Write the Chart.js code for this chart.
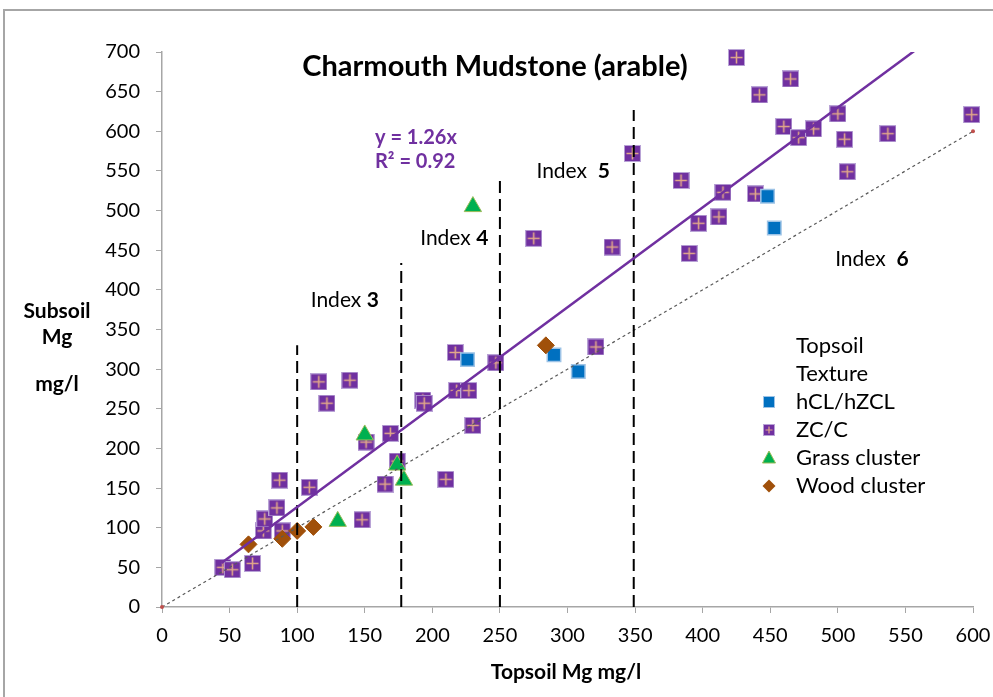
<!DOCTYPE html>
<html>
<head>
<meta charset="utf-8">
<script src="https://cdn.jsdelivr.net/npm/chart.js@4/dist/chart.umd.min.js"></script>
<style>
  html, body { margin: 0; padding: 0; background: #fff; }
  #wrap { width: 993px; height: 697px; position: relative; }
</style>
</head>
<body>
<div id="wrap"><canvas id="mgChart" width="993" height="697"></canvas></div>
<script>
// Topsoil / subsoil Mg (mg/l) by topsoil texture
const hclTop = [226, 290, 308, 448, 453];
const hclSub = [312, 318, 297, 518, 478];

const zcTop = [45, 52, 67, 75, 76, 85, 87, 89, 109, 116, 122, 139, 148, 151, 165, 169, 174, 193, 194, 210,
  217, 218, 227, 230, 247, 275, 321, 333, 348, 384, 390, 397, 412, 415, 439, 425, 442, 460, 465, 471,
  482, 500, 505, 507, 537, 599];
const zcSub = [50, 47, 55, 96, 111, 125, 160, 96, 151, 284, 257, 286, 110, 208, 155, 219, 184, 261, 257, 161,
  321, 273, 273, 229, 308, 465, 328, 454, 572, 538, 446, 484, 492, 523, 521, 693, 646, 606, 666, 592,
  603, 622, 590, 549, 597, 621];

const grassTop = [130, 150, 174, 179, 230];
const grassSub = [108, 217, 179, 160, 505];

const woodTop = [64, 89, 100, 112, 284];
const woodSub = [79, 86, 96, 101, 330];

// fitted trend (through origin) and the 1:1 reference line
const trendSlope = 1.26;
const trendR2 = 0.92;
const trendX = [44, 600];
const oneToOne = [0, 600];

// index boundaries on topsoil Mg and the height of each dashed marker
const indexBounds = [100, 177, 250, 349];
const indexTops = [330, 434, 544, 627];
const indexNames = ['3', '4', '5', '6'];
const indexLabelX = [110, 191, 277, 498];
const indexLabelY = [387, 465, 550, 438];

const xTicks = [0, 600, 50];
const yTicks = [0, 700, 50];

const FONT = "Lato, 'Open Sans', sans-serif";
const PURPLE = '#7030A0';

function pairs(xs, ys) { return xs.map((x, i) => ({ x: x, y: ys[i] })); }

// purple square with a light cross for ZC/C
function crossSquare(size) {
  const c = document.createElement('canvas');
  c.width = size; c.height = size;
  const g = c.getContext('2d');
  g.fillStyle = '#B9A3D6';
  g.fillRect(0, 0, size, size);
  g.fillStyle = PURPLE;
  g.fillRect(1, 1, size - 2, size - 2);
  g.strokeStyle = '#E2A889';
  g.lineWidth = size > 12 ? 1.6 : 1.2;
  const m = size / 2;
  g.beginPath();
  g.moveTo(m, 2.5); g.lineTo(m, size - 2.5);
  g.moveTo(2.5, m); g.lineTo(size - 2.5, m);
  g.stroke();
  return c;
}
const zcMark = crossSquare(17);
const zcLegendMark = crossSquare(12);

const datasets = [];

// dashed index boundaries
indexBounds.forEach((b, i) => {
  datasets.push({
    type: 'line', label: 'idx' + i, data: [{ x: b, y: 0 }, { x: b, y: indexTops[i] }],
    borderColor: '#000', borderWidth: 2, borderDash: [12, 6], pointRadius: 0, order: -1
  });
});

datasets.push({
  type: 'line', label: '1:1', data: oneToOne.map(v => ({ x: v, y: v })),
  borderColor: '#595959', borderWidth: 1.2, borderDash: [3, 3],
  pointRadius: 2, pointBackgroundColor: '#C0504D', pointBorderWidth: 0, order: -1, clip: 4
});

datasets.push({
  type: 'line', label: 'trend', data: trendX.map(x => ({ x: x, y: trendSlope * x })),
  borderColor: PURPLE, borderWidth: 2.5, pointRadius: 0, order: -2
});

datasets.push({
  label: 'hCL/hZCL', data: pairs(hclTop, hclSub), pointStyle: 'rect', pointRadius: 9.5,
  backgroundColor: '#0070C0', borderColor: '#9DC3E6', borderWidth: 1.5, order: 3
});
datasets.push({
  label: 'ZC/C', data: pairs(zcTop, zcSub), pointStyle: zcMark, pointRadius: 9, order: 4, clip: 10
});
datasets.push({
  label: 'Grass cluster', data: pairs(grassTop, grassSub), pointStyle: 'triangle', pointRadius: 10,
  backgroundColor: '#00B050', borderColor: '#9BBB59', borderWidth: 1, order: 2
});
datasets.push({
  label: 'Wood cluster', data: pairs(woodTop, woodSub), pointStyle: 'rectRot', pointRadius: 8.5,
  backgroundColor: '#A0500A', borderColor: '#A0500A', borderWidth: 1, order: 1
});

const decorations = {
  id: 'decorations',
  beforeDraw(chart) {
    const ctx = chart.ctx;
    ctx.save();
    ctx.strokeStyle = '#A6A6A6';
    ctx.lineWidth = 2;
    ctx.beginPath();
    ctx.moveTo(4, 700); ctx.lineTo(4, 10); ctx.lineTo(993, 10);
    ctx.stroke();
    ctx.restore();
  },
  afterDraw(chart) {
    const ctx = chart.ctx;
    const xs = chart.scales.x, ys = chart.scales.y;
    ctx.save();
    ctx.fillStyle = '#000';
    ctx.textBaseline = 'middle';

    // title
    ctx.textAlign = 'center';
    ctx.font = 'bold 29px ' + FONT;
    ctx.fillText('Charmouth Mudstone (arable)', 495, 67);

    // axis titles
    ctx.font = 'bold 21px ' + FONT;
    ctx.fillText('Topsoil Mg mg/l', 566, 672);
    ctx.fillText('Subsoil', 57, 311);
    ctx.fillText('Mg', 57, 337);
    ctx.fillText('mg/l', 57, 384);

    // trend equation
    ctx.textAlign = 'left';
    ctx.fillStyle = PURPLE;
    ctx.font = 'bold 20px ' + FONT;
    ctx.fillText('y = ' + trendSlope + 'x', 375, 138);
    ctx.fillText('R² = ' + trendR2.toFixed(2), 375, 162);

    // index labels
    ctx.fillStyle = '#000';
    indexNames.forEach((n, i) => {
      const px = xs.getPixelForValue(indexLabelX[i]);
      const py = ys.getPixelForValue(indexLabelY[i]);
      ctx.font = '21px ' + FONT;
      const word = i < 2 ? 'Index ' : 'Index  ';
      ctx.fillText(word, px, py);
      const w = ctx.measureText(word).width;
      ctx.font = 'bold 21px ' + FONT;
      ctx.fillText(n, px + w, py);
    });

    // legend
    ctx.font = '22px ' + FONT;
    const lx = 796, mx = 769;
    ctx.fillText('Topsoil', lx, 346);
    ctx.fillText('Texture', lx, 374);
    const rows = [
      ['hCL/hZCL', 402], ['ZC/C', 430], ['Grass cluster', 458], ['Wood cluster', 486]
    ];
    rows.forEach(r => ctx.fillText(r[0], lx, r[1]));

    // legend markers
    ctx.fillStyle = '#0070C0'; ctx.strokeStyle = '#9DC3E6'; ctx.lineWidth = 1;
    ctx.fillRect(mx - 5.5, 402 - 5.5, 11, 11); ctx.strokeRect(mx - 5.5, 402 - 5.5, 11, 11);
    ctx.drawImage(zcLegendMark, mx - 6, 430 - 6);
    ctx.fillStyle = '#00B050'; ctx.strokeStyle = '#9BBB59';
    ctx.beginPath();
    ctx.moveTo(mx, 458 - 7); ctx.lineTo(mx + 6.5, 458 + 5); ctx.lineTo(mx - 6.5, 458 + 5); ctx.closePath();
    ctx.fill(); ctx.stroke();
    ctx.fillStyle = '#A0500A';
    ctx.beginPath();
    ctx.moveTo(mx, 486 - 6.5); ctx.lineTo(mx + 6.5, 486); ctx.lineTo(mx, 486 + 6.5); ctx.lineTo(mx - 6.5, 486); ctx.closePath();
    ctx.fill();
    ctx.restore();
  }
};

new Chart(document.getElementById('mgChart'), {
  type: 'scatter',
  data: { datasets: datasets },
  options: {
    responsive: false,
    animation: false,
    layout: { padding: { left: 0, top: 52, right: 20, bottom: 0 } },
    plugins: { legend: { display: false }, tooltip: { enabled: false } },
    scales: {
      x: {
        type: 'linear', min: xTicks[0], max: xTicks[1],
        ticks: { stepSize: xTicks[2], color: '#000', font: { family: FONT, size: 20 }, padding: 11, maxRotation: 0 },
        grid: { drawOnChartArea: false, drawTicks: true, tickLength: 6, color: '#A6A6A6' },
        border: { color: '#A6A6A6', width: 1.5 },
        afterFit(s) { s.height = 90; s.paddingRight = 0; s.paddingLeft = 0; }
      },
      y: {
        type: 'linear', min: yTicks[0], max: yTicks[1],
        ticks: { stepSize: yTicks[2], color: '#000', font: { family: FONT, size: 20 }, padding: 16 },
        grid: { drawOnChartArea: false, drawTicks: true, tickLength: 6, color: '#A6A6A6' },
        border: { color: '#A6A6A6', width: 1.5 },
        afterFit(s) { s.width = 162; }
      }
    }
  },
  plugins: [decorations]
});
</script>
</body>
</html>
